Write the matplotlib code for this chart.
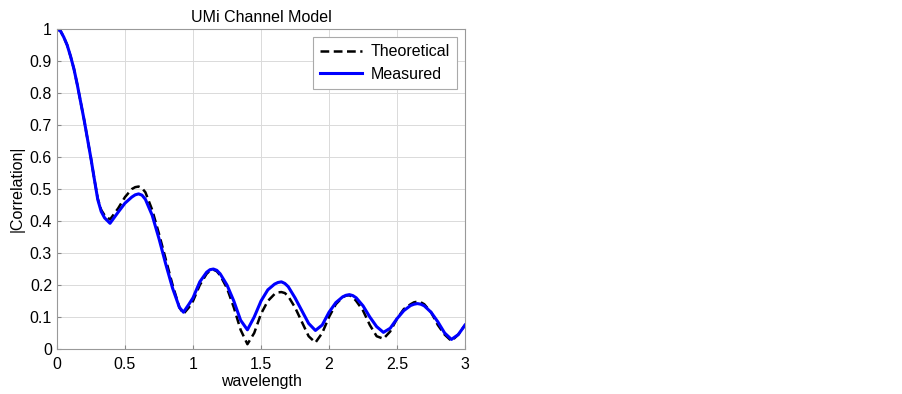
import matplotlib
matplotlib.use("Agg")
import matplotlib.pyplot as plt

# wavelength samples (x axis)
wavelength = [0.0, 0.025, 0.05, 0.075, 0.1, 0.125, 0.15, 0.2, 0.25, 0.275, 0.3, 0.325,
              0.35, 0.39, 0.45, 0.5, 0.55, 0.575, 0.6, 0.625, 0.65, 0.7, 0.75, 0.8,
              0.85, 0.9, 0.93, 0.97, 1.0, 1.05, 1.1, 1.125, 1.15, 1.175, 1.2, 1.25,
              1.3, 1.35, 1.4, 1.45, 1.5, 1.55, 1.6, 1.625, 1.65, 1.675, 1.7, 1.75,
              1.8, 1.85, 1.9, 1.95, 2.0, 2.05, 2.1, 2.125, 2.15, 2.175, 2.2, 2.25,
              2.3, 2.35, 2.4, 2.45, 2.5, 2.55, 2.6, 2.625, 2.65, 2.675, 2.7, 2.75,
              2.8, 2.85, 2.9, 2.95, 3.0]

# |Correlation|
theoretical = [1.0, 0.995, 0.975, 0.95, 0.915, 0.875, 0.825, 0.715, 0.595, 0.53, 0.47, 0.435,
               0.418, 0.405, 0.44, 0.475, 0.50, 0.506, 0.508, 0.503, 0.49, 0.435, 0.36, 0.28,
               0.20, 0.13, 0.11, 0.13, 0.15, 0.20, 0.235, 0.245, 0.248, 0.243, 0.23, 0.19,
               0.13, 0.06, 0.015, 0.05, 0.11, 0.15, 0.172, 0.177, 0.178, 0.175, 0.165, 0.13,
               0.085, 0.04, 0.02, 0.05, 0.10, 0.14, 0.162, 0.167, 0.168, 0.162, 0.15, 0.12,
               0.075, 0.04, 0.032, 0.055, 0.095, 0.125, 0.14, 0.146, 0.148, 0.146, 0.14, 0.115,
               0.075, 0.045, 0.025, 0.045, 0.075]
measured = [1.0, 0.995, 0.975, 0.95, 0.915, 0.875, 0.825, 0.715, 0.595, 0.53, 0.467, 0.43,
            0.41, 0.393, 0.428, 0.456, 0.475, 0.482, 0.485, 0.481, 0.468, 0.418, 0.345, 0.265,
            0.19, 0.13, 0.115, 0.14, 0.16, 0.21, 0.24, 0.248, 0.25, 0.246, 0.235, 0.20,
            0.15, 0.09, 0.06, 0.10, 0.15, 0.185, 0.203, 0.208, 0.21, 0.205, 0.195, 0.16,
            0.12, 0.08, 0.058, 0.075, 0.115, 0.145, 0.163, 0.168, 0.17, 0.167, 0.16, 0.135,
            0.10, 0.07, 0.052, 0.065, 0.095, 0.12, 0.136, 0.14, 0.142, 0.14, 0.135, 0.115,
            0.085, 0.05, 0.03, 0.045, 0.075]

xticks = [0, 0.5, 1, 1.5, 2, 2.5, 3]
xtick_labels = ["0", "0.5", "1", "1.5", "2", "2.5", "3"]
yticks = [0, 0.1, 0.2, 0.3, 0.4, 0.5, 0.6, 0.7, 0.8, 0.9, 1]
ytick_labels = ["0", "0.1", "0.2", "0.3", "0.4", "0.5", "0.6", "0.7", "0.8", "0.9", "1"]

plt.rcParams["font.family"] = ["Liberation Sans", "DejaVu Sans"]
fs = 11.5

fig = plt.figure(figsize=(9.03, 3.94), dpi=100)
ax = fig.add_axes([0.0631, 0.1142, 0.4519, 0.8118])

ax.plot(wavelength, theoretical, color="black", linestyle=(0, (3.5, 1.8)),
        linewidth=1.8, label="Theoretical")
ax.plot(wavelength, measured, color="#0000ff", linewidth=2.2,
        solid_joinstyle="round", label="Measured")

ax.set_xlim(0, 3)
ax.set_ylim(0, 1)
ax.set_xticks(xticks)
ax.set_xticklabels(xtick_labels, fontsize=fs)
ax.set_yticks(yticks)
ax.set_yticklabels(ytick_labels, fontsize=fs)
ax.tick_params(axis="x", pad=6)
ax.tick_params(direction="in", length=3, color="#888888")
ax.grid(True, color="#dadada", linewidth=0.7)
for s in ax.spines.values():
    s.set_color("#999999")
    s.set_linewidth(0.8)

ax.set_xlabel("wavelength", fontsize=fs, labelpad=1)
ax.set_ylabel("|Correlation|", fontsize=fs, labelpad=4)
ax.set_title("UMi Channel Model", fontsize=fs, pad=5)

leg = ax.legend(loc="upper right", fontsize=fs, fancybox=False, framealpha=1,
                edgecolor="#aaaaaa", handlelength=2.6, borderaxespad=0.5,
                labelspacing=0.45, handletextpad=0.55, borderpad=0.45)
leg.get_frame().set_linewidth(0.8)

fig.savefig("out.png", dpi=100)
